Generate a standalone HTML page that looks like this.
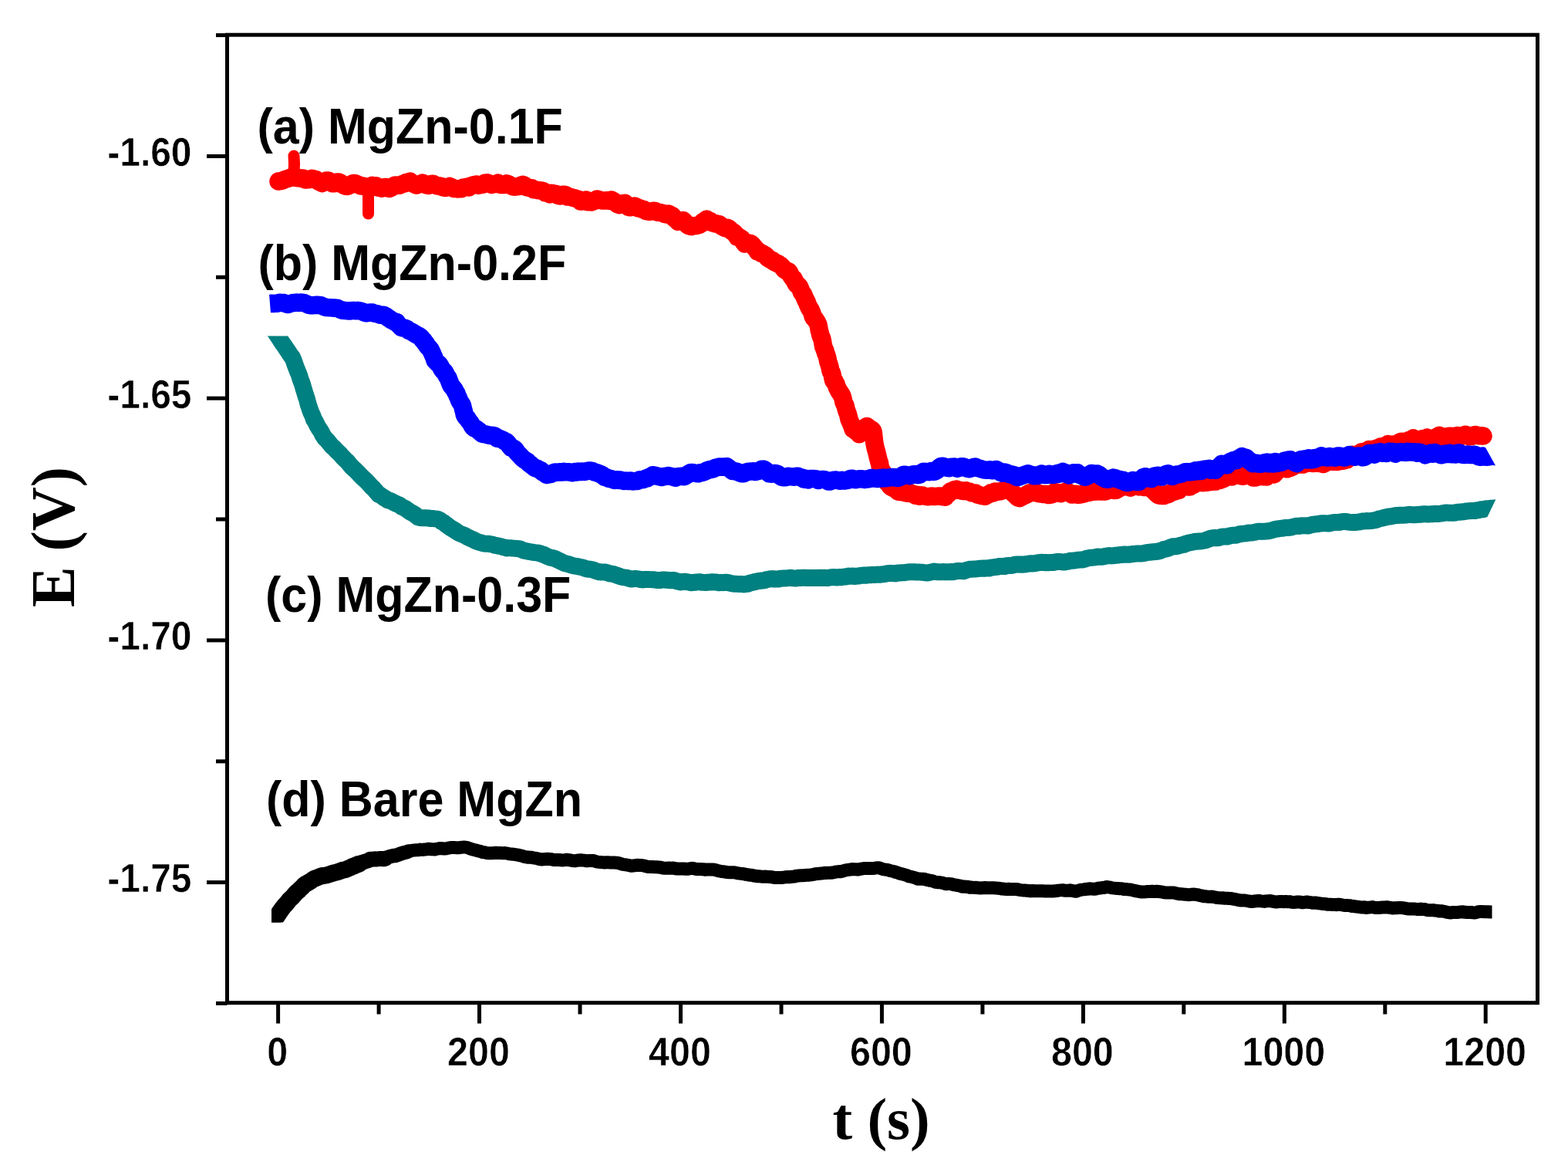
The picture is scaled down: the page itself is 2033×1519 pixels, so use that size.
<!DOCTYPE html>
<html><head><meta charset="utf-8"><title>E vs t</title><style>html,body{margin:0;padding:0;background:#fff;overflow:hidden}svg{display:block}</style></head><body><svg width="2033" height="1519" viewBox="0 0 2033 1519"><rect x="0" y="0" width="2033" height="1519" fill="#fff"/>
<clipPath id="ck"><rect x="352" y="0" width="1700" height="1195.5"/></clipPath>
<clipPath id="cb"><polygon points="0,0 2033,0 2033,500 1881.5,500 1992.7,700 2033,700 2033,1519 0,1519"/></clipPath>
<clipPath id="ct"><polygon points="0,435.6 2033,435.6 2033,600 1961.8,600 1904.7,720 2033,720 2033,1519 0,1519"/></clipPath>
<g clip-path="url(#ck)"><path d="M352.0 1199.0 L353.4 1196.8 L354.8 1194.4 L356.2 1192.3 L357.6 1189.9 L359.0 1187.7 L360.8 1185.1 L362.5 1182.3 L364.2 1180.1 L366.0 1177.3 L367.6 1175.3 L369.2 1173.3 L370.8 1171.9 L372.4 1169.9 L374.0 1167.8 L375.8 1165.6 L377.6 1164.1 L379.4 1162.4 L381.2 1160.2 L383.0 1158.1 L385.2 1155.9 L387.3 1154.3 L389.5 1151.9 L391.7 1150.1 L393.8 1147.7 L396.0 1145.8 L398.4 1144.7 L400.8 1143.2 L403.2 1141.8 L405.6 1140.0 L408.0 1138.6 L410.4 1137.9 L412.9 1136.8 L415.3 1135.9 L417.7 1135.0 L420.1 1134.9 L422.6 1134.5 L425.0 1133.9 L427.4 1133.1 L429.9 1132.3 L432.3 1131.5 L434.8 1130.9 L437.2 1130.3 L439.7 1129.5 L442.1 1128.6 L444.6 1127.7 L447.0 1127.4 L449.3 1126.6 L451.7 1125.5 L454.0 1124.6 L456.3 1123.3 L458.7 1122.5 L461.0 1121.4 L463.3 1120.5 L465.7 1119.6 L468.0 1118.2 L470.4 1117.5 L472.8 1116.7 L475.2 1116.0 L477.6 1115.1 L480.0 1113.7 L482.9 1113.7 L485.8 1113.3 L488.7 1113.4 L491.6 1113.1 L494.5 1113.1 L497.4 1113.3 L499.8 1112.6 L502.3 1111.7 L504.8 1110.3 L507.2 1109.8 L509.6 1109.1 L512.1 1109.1 L514.5 1108.4 L517.0 1107.5 L519.5 1106.4 L522.0 1105.8 L524.4 1105.0 L526.9 1104.5 L529.4 1103.5 L531.8 1103.1 L534.3 1102.2 L536.8 1102.1 L539.5 1101.8 L542.3 1101.7 L545.0 1101.1 L547.8 1101.4 L550.5 1101.0 L553.3 1100.7 L556.0 1100.2 L558.5 1100.7 L561.0 1100.8 L563.5 1100.9 L566.0 1100.3 L568.5 1099.9 L571.0 1099.4 L573.5 1099.7 L576.0 1100.0 L578.8 1099.8 L581.6 1099.1 L584.4 1098.5 L587.2 1098.5 L590.0 1098.6 L592.6 1098.8 L595.2 1098.7 L597.8 1098.3 L600.4 1098.1 L603.0 1098.1 L605.6 1098.4 L608.7 1099.6 L611.9 1100.7 L615.0 1101.5 L617.6 1102.1 L620.1 1102.9 L622.7 1103.4 L625.3 1104.5 L628.2 1104.8 L631.2 1105.6 L634.1 1105.8 L637.1 1105.7 L640.0 1105.6 L643.0 1105.2 L645.9 1105.6 L648.9 1105.5 L651.8 1105.7 L654.8 1105.5 L657.5 1106.0 L660.3 1106.7 L663.0 1107.0 L665.8 1107.3 L668.5 1107.6 L671.3 1108.1 L674.0 1108.8 L676.5 1109.1 L679.0 1110.1 L681.6 1110.7 L684.1 1111.2 L686.6 1111.1 L689.2 1111.3 L691.7 1111.9 L694.2 1112.2 L696.8 1112.8 L699.4 1113.5 L701.9 1113.9 L704.5 1113.8 L707.1 1113.4 L709.7 1113.3 L712.3 1113.4 L714.8 1113.7 L717.4 1114.5 L720.0 1114.5 L722.5 1114.4 L725.0 1114.5 L727.5 1114.8 L730.0 1114.9 L732.5 1114.6 L735.0 1114.3 L737.5 1114.6 L740.0 1115.0 L742.5 1115.6 L745.0 1115.8 L747.7 1115.3 L750.4 1115.0 L753.1 1114.7 L755.8 1115.1 L758.4 1115.3 L761.1 1115.8 L763.8 1115.6 L766.5 1115.4 L769.2 1115.5 L772.0 1116.3 L774.7 1117.1 L777.5 1117.4 L780.2 1117.6 L783.0 1117.9 L785.7 1117.7 L788.5 1117.8 L791.2 1117.9 L794.0 1118.0 L796.7 1118.0 L799.4 1118.2 L802.1 1118.7 L804.8 1119.5 L807.6 1120.3 L810.3 1120.7 L813.0 1121.2 L815.7 1121.6 L818.4 1122.2 L821.1 1122.0 L823.9 1121.6 L826.6 1121.3 L829.3 1121.4 L832.1 1121.5 L834.8 1122.0 L837.5 1122.8 L840.3 1123.5 L843.0 1123.5 L845.7 1123.6 L848.5 1123.8 L851.2 1123.7 L853.9 1124.0 L856.7 1124.3 L859.4 1125.0 L862.1 1125.3 L864.9 1125.3 L867.6 1125.0 L870.3 1125.2 L873.0 1125.1 L875.7 1125.7 L878.4 1126.0 L881.2 1126.1 L883.9 1125.9 L886.6 1126.0 L889.3 1126.3 L892.0 1126.3 L894.8 1125.7 L897.5 1125.3 L900.3 1125.9 L903.0 1126.5 L905.8 1126.5 L908.5 1126.5 L911.3 1126.7 L914.0 1127.2 L916.8 1126.9 L919.5 1126.9 L922.3 1126.9 L925.0 1127.0 L927.8 1127.6 L930.5 1128.4 L933.3 1129.1 L936.0 1129.5 L938.5 1129.7 L941.0 1130.3 L943.5 1130.6 L946.0 1130.8 L948.6 1130.7 L951.1 1130.7 L953.6 1131.1 L956.1 1131.7 L958.8 1132.0 L961.4 1132.5 L964.1 1132.5 L966.7 1133.3 L969.4 1133.6 L972.0 1134.2 L974.7 1134.3 L977.3 1135.0 L980.0 1135.3 L982.5 1135.8 L985.1 1135.8 L987.6 1136.2 L990.1 1136.2 L992.6 1136.1 L995.2 1136.3 L997.7 1136.4 L1000.2 1136.7 L1002.8 1137.2 L1005.3 1137.5 L1008.0 1137.6 L1010.8 1137.4 L1013.5 1137.5 L1016.3 1137.1 L1019.0 1136.8 L1021.8 1136.6 L1024.5 1136.7 L1027.3 1136.2 L1030.0 1136.0 L1032.7 1135.2 L1035.4 1135.0 L1038.2 1134.8 L1040.9 1134.7 L1043.6 1134.6 L1046.3 1134.2 L1049.1 1134.2 L1051.8 1133.8 L1054.5 1133.4 L1057.0 1132.8 L1059.5 1132.5 L1062.0 1132.3 L1064.5 1132.0 L1067.0 1131.7 L1069.5 1131.3 L1072.0 1131.4 L1074.5 1131.2 L1077.0 1131.3 L1079.6 1131.0 L1082.1 1130.4 L1084.7 1129.9 L1087.2 1129.6 L1089.8 1129.7 L1092.3 1129.2 L1094.9 1128.3 L1097.4 1127.7 L1100.0 1127.3 L1102.5 1127.1 L1105.0 1126.5 L1107.5 1126.7 L1110.0 1126.8 L1112.5 1127.1 L1115.0 1126.4 L1117.5 1126.0 L1120.0 1125.5 L1122.8 1125.4 L1125.5 1125.4 L1128.3 1125.4 L1131.1 1125.4 L1133.9 1125.3 L1136.6 1124.7 L1139.4 1124.8 L1141.9 1125.5 L1144.3 1126.5 L1146.8 1126.9 L1149.2 1127.2 L1151.7 1127.6 L1154.1 1128.5 L1156.5 1129.0 L1159.0 1129.5 L1161.5 1130.5 L1163.9 1131.1 L1166.4 1132.1 L1168.8 1132.6 L1171.3 1133.3 L1173.8 1133.9 L1176.2 1134.8 L1178.7 1135.9 L1181.5 1136.3 L1184.2 1137.1 L1187.0 1137.9 L1189.7 1139.2 L1192.5 1139.1 L1195.2 1139.3 L1198.0 1139.2 L1200.5 1140.2 L1203.0 1140.6 L1205.5 1141.2 L1208.0 1141.4 L1210.5 1142.3 L1213.0 1143.3 L1215.5 1143.7 L1218.0 1143.6 L1220.7 1144.1 L1223.4 1144.8 L1226.1 1145.7 L1228.9 1145.5 L1231.6 1145.6 L1234.3 1146.0 L1237.0 1146.8 L1239.5 1147.1 L1242.1 1147.7 L1244.7 1148.2 L1247.2 1149.2 L1249.8 1148.9 L1252.3 1149.4 L1254.9 1149.3 L1257.4 1150.2 L1260.2 1150.1 L1263.0 1150.4 L1265.8 1150.3 L1268.6 1150.8 L1271.4 1150.9 L1274.2 1150.7 L1277.0 1150.6 L1279.8 1150.7 L1282.7 1150.8 L1285.5 1150.7 L1288.3 1150.7 L1291.1 1150.9 L1294.0 1151.2 L1296.8 1151.5 L1299.5 1152.1 L1302.3 1152.3 L1305.0 1152.6 L1307.8 1152.3 L1310.5 1152.6 L1313.3 1152.4 L1316.0 1152.6 L1318.5 1152.5 L1321.0 1153.2 L1323.5 1153.6 L1326.0 1153.9 L1328.5 1153.9 L1331.0 1154.3 L1333.5 1154.4 L1336.0 1154.9 L1338.6 1154.5 L1341.3 1154.8 L1343.9 1154.8 L1346.5 1154.8 L1349.2 1154.8 L1351.8 1154.7 L1354.5 1155.1 L1357.1 1155.0 L1359.7 1155.1 L1362.4 1154.9 L1365.0 1155.1 L1367.5 1154.8 L1370.0 1154.5 L1372.5 1154.1 L1375.0 1153.9 L1377.5 1153.7 L1380.0 1154.2 L1382.5 1154.3 L1385.0 1154.3 L1387.5 1153.8 L1390.0 1154.3 L1392.5 1154.8 L1395.0 1155.3 L1397.5 1154.5 L1400.0 1153.7 L1402.5 1153.1 L1405.0 1152.9 L1407.5 1152.5 L1410.0 1152.3 L1412.5 1151.8 L1415.0 1152.1 L1417.8 1152.2 L1420.6 1152.2 L1423.4 1151.3 L1426.1 1151.1 L1428.9 1150.6 L1431.7 1150.4 L1434.5 1149.4 L1437.0 1149.8 L1439.5 1150.2 L1442.0 1150.9 L1444.5 1151.1 L1447.0 1151.4 L1449.5 1151.4 L1452.0 1151.8 L1454.5 1151.8 L1457.0 1152.4 L1459.6 1152.5 L1462.1 1152.8 L1464.7 1153.0 L1467.2 1153.4 L1469.8 1154.1 L1472.3 1154.6 L1474.9 1155.2 L1477.4 1155.6 L1480.0 1156.0 L1482.8 1156.0 L1485.5 1155.8 L1488.3 1155.5 L1491.1 1155.5 L1493.9 1155.3 L1496.6 1155.6 L1499.4 1155.3 L1502.0 1155.5 L1504.5 1155.8 L1507.1 1156.2 L1509.6 1156.8 L1512.2 1157.0 L1514.8 1157.1 L1517.3 1157.0 L1519.9 1157.0 L1522.4 1157.0 L1525.0 1157.8 L1527.6 1158.3 L1530.2 1158.8 L1532.7 1158.8 L1535.3 1159.2 L1537.9 1159.3 L1540.5 1159.7 L1543.1 1159.5 L1545.6 1159.2 L1548.2 1159.1 L1550.8 1159.5 L1553.3 1159.8 L1555.8 1160.6 L1558.3 1161.0 L1560.9 1161.7 L1563.4 1161.8 L1565.9 1162.2 L1568.4 1162.3 L1570.9 1162.1 L1573.4 1162.5 L1575.9 1163.0 L1578.5 1163.6 L1581.0 1163.7 L1583.5 1163.9 L1586.0 1163.8 L1588.5 1164.3 L1591.1 1164.2 L1593.7 1164.5 L1596.2 1164.5 L1598.8 1165.1 L1601.3 1165.5 L1603.8 1166.1 L1606.4 1166.6 L1609.0 1167.1 L1611.5 1167.1 L1614.0 1167.0 L1616.6 1167.5 L1619.2 1168.0 L1621.7 1168.4 L1624.2 1168.4 L1626.7 1168.0 L1629.3 1167.7 L1631.8 1167.4 L1634.3 1167.9 L1636.8 1168.1 L1639.3 1168.4 L1641.9 1167.9 L1644.4 1167.7 L1646.9 1167.6 L1649.4 1168.1 L1652.0 1168.6 L1654.5 1169.0 L1657.0 1168.7 L1659.5 1168.6 L1662.1 1168.5 L1664.6 1168.7 L1667.1 1168.4 L1669.7 1168.8 L1672.2 1168.6 L1674.8 1169.3 L1677.3 1169.4 L1679.8 1169.3 L1682.4 1169.0 L1684.9 1168.9 L1687.4 1169.7 L1690.0 1169.7 L1692.5 1169.3 L1695.0 1169.0 L1697.6 1169.6 L1700.1 1169.8 L1702.6 1170.3 L1705.2 1169.9 L1707.7 1170.3 L1710.2 1170.8 L1712.8 1171.1 L1715.3 1171.5 L1717.9 1171.4 L1720.4 1172.2 L1722.9 1172.3 L1725.5 1172.3 L1728.0 1172.6 L1730.5 1172.6 L1733.0 1172.7 L1735.6 1172.2 L1738.1 1172.5 L1740.6 1173.0 L1743.1 1173.5 L1745.7 1173.4 L1748.2 1173.6 L1750.7 1173.8 L1753.2 1174.6 L1755.7 1174.6 L1758.3 1175.1 L1760.8 1175.3 L1763.3 1175.7 L1766.0 1175.9 L1768.6 1175.8 L1771.3 1176.5 L1774.0 1176.1 L1776.6 1175.9 L1779.3 1175.6 L1782.0 1176.2 L1784.7 1176.5 L1787.3 1176.5 L1790.0 1176.2 L1792.7 1176.0 L1795.3 1175.9 L1798.0 1175.7 L1800.6 1176.2 L1803.2 1176.4 L1805.8 1177.1 L1808.3 1176.7 L1810.9 1176.8 L1813.5 1176.5 L1816.1 1176.5 L1818.7 1176.7 L1821.3 1177.1 L1823.9 1177.7 L1826.4 1178.1 L1829.0 1177.9 L1831.6 1178.0 L1834.2 1178.1 L1836.8 1178.4 L1839.5 1178.5 L1842.1 1178.1 L1844.8 1178.6 L1847.4 1178.6 L1850.1 1179.5 L1852.7 1179.7 L1855.4 1179.8 L1858.0 1179.6 L1860.6 1180.1 L1863.2 1180.3 L1865.8 1180.9 L1868.4 1180.7 L1871.0 1181.2 L1873.6 1181.6 L1876.2 1182.4 L1878.8 1182.7 L1881.4 1182.9 L1884.0 1182.4 L1886.5 1182.6 L1889.1 1182.4 L1891.6 1182.2 L1894.2 1181.9 L1896.8 1181.8 L1899.3 1182.3 L1901.9 1182.5 L1904.4 1182.5 L1907.0 1182.5 L1909.5 1182.8 L1912.0 1183.0 L1914.5 1182.4 L1917.0 1181.7 L1919.5 1181.4 L1922.0 1181.6 L1924.5 1181.7 L1927.0 1181.8 L1929.5 1181.8 L1932.0 1182.0 L1934.5 1182.0" fill="none" stroke="#000" stroke-width="17" stroke-linejoin="round" stroke-linecap="butt"/><path d="M352.0 1199.0 L353.4 1196.8 L354.8 1194.4 L356.2 1192.3 L357.6 1189.9 L359.0 1187.7 L360.8 1185.1 L362.5 1182.3 L364.2 1180.1 L366.0 1177.3 L367.6 1175.3 L369.2 1173.3 L370.8 1171.9 L372.4 1169.9 L374.0 1167.8 L375.8 1165.6 L377.6 1164.1 L379.4 1162.4 L381.2 1160.2 L383.0 1158.1 L385.2 1155.9 L387.3 1154.3 L389.5 1151.9 L391.7 1150.1 L393.8 1147.7 L396.0 1145.8 L398.4 1144.7 L400.8 1143.2 L403.2 1141.8 L405.6 1140.0 L408.0 1138.6 L410.4 1137.9 L412.9 1136.8 L415.3 1135.9 L417.7 1135.0 L420.1 1134.9 L422.6 1134.5 L425.0 1133.9 L427.4 1133.1 L429.9 1132.3 L432.3 1131.5 L434.8 1130.9 L437.2 1130.3 L439.7 1129.5 L442.1 1128.6 L444.6 1127.7 L447.0 1127.4 L449.3 1126.6 L451.7 1125.5 L454.0 1124.6 L456.3 1123.3 L458.7 1122.5 L461.0 1121.4 L463.3 1120.5 L465.7 1119.6 L468.0 1118.2" fill="none" stroke="#000" stroke-width="22" stroke-linejoin="round" stroke-linecap="butt"/><path d="M461.0 1121.4 L463.3 1120.5 L465.7 1119.6 L468.0 1118.2 L470.4 1117.5 L472.8 1116.7 L475.2 1116.0 L477.6 1115.1 L480.0 1113.7 L482.9 1113.7 L485.8 1113.3 L488.7 1113.4 L491.6 1113.1 L494.5 1113.1 L497.4 1113.3 L499.8 1112.6" fill="none" stroke="#000" stroke-width="20" stroke-linejoin="round" stroke-linecap="round"/><path d="M497.4 1113.3 L499.8 1112.6 L502.3 1111.7 L504.8 1110.3 L507.2 1109.8 L509.6 1109.1 L512.1 1109.1 L514.5 1108.4 L517.0 1107.5 L519.5 1106.4 L522.0 1105.8 L524.4 1105.0 L526.9 1104.5 L529.4 1103.5" fill="none" stroke="#000" stroke-width="18.5" stroke-linejoin="round" stroke-linecap="round"/></g>
<path d="M361.0 235.0 L363.5 234.7 L366.0 234.1 L369.0 232.8 L372.0 231.7 L375.0 231.1 L378.0 229.6 L381.0 229.0 L384.0 230.5 L387.0 230.7 L390.0 231.2 L393.0 230.9 L396.0 233.1 L399.0 232.9 L401.7 232.4 L404.4 231.2 L407.0 232.0 L409.7 232.7 L412.4 234.8 L415.1 236.1 L417.8 237.5 L420.5 235.6 L423.1 234.0 L425.8 233.9 L428.5 236.3 L431.2 237.7 L433.9 237.8 L436.5 236.0 L439.2 236.1 L441.9 237.3 L444.6 239.6 L447.3 241.1 L450.0 241.5 L452.6 240.5 L455.3 239.0 L458.0 237.4 L461.0 237.9 L464.0 239.1 L467.0 240.7 L470.0 241.0 L472.5 241.6 L475.0 241.8 L477.5 241.9 L480.0 241.9 L482.5 240.3 L485.0 241.3 L487.5 240.7 L490.0 243.0 L492.5 243.3 L494.9 244.1 L497.4 242.8 L499.8 242.5 L502.3 243.8 L504.8 244.4 L507.4 243.3 L509.9 241.1 L512.5 239.9 L515.0 240.2 L517.8 240.3 L520.6 238.9 L523.4 238.2 L526.2 236.6 L529.0 236.1 L531.8 235.1 L534.5 237.6 L537.2 238.7 L539.8 240.0 L542.5 239.1 L545.2 238.4 L547.9 237.1 L550.6 238.6 L553.3 240.0 L555.9 240.4 L558.6 238.4 L561.3 238.2 L564.0 239.5 L566.7 241.0 L569.3 240.9 L572.0 241.3 L574.7 243.0 L577.4 243.4 L580.1 242.4 L582.8 241.4 L585.4 242.4 L588.1 244.4 L590.8 244.5 L593.3 244.9 L595.7 244.6 L598.2 244.8 L600.7 242.9 L603.1 242.9 L605.6 242.0 L608.1 242.9 L610.5 240.7 L613.0 240.0 L615.5 239.3 L617.9 239.0 L620.4 240.2 L623.2 239.4 L626.0 239.0 L628.8 237.2 L631.6 236.8 L634.4 237.8 L637.2 239.4 L640.0 238.6 L642.8 238.4 L645.6 237.1 L648.4 239.6 L651.1 239.4 L653.9 239.5 L656.7 237.8 L659.5 238.8 L662.1 240.4 L664.8 241.8 L667.4 242.2 L670.0 241.9 L672.7 241.6 L675.3 240.1 L677.7 239.3 L680.0 240.3 L682.4 242.4 L684.8 243.1 L687.1 243.6 L689.5 243.8 L691.9 245.7 L694.3 245.9 L696.6 246.5 L699.0 246.7 L701.7 246.9 L704.4 247.6 L707.1 250.1 L709.9 250.0 L712.6 251.8 L715.3 250.2 L718.0 251.1 L720.6 251.2 L723.1 253.2 L725.7 253.9 L728.2 252.5 L730.8 252.2 L733.4 252.6 L735.9 255.1 L738.5 255.0 L740.9 255.7 L743.2 256.5 L745.6 256.9 L748.0 257.8 L750.4 258.4 L752.7 261.0 L755.1 260.9 L757.5 259.8 L759.8 258.9 L762.2 261.8 L764.6 261.4 L766.9 262.0 L769.3 261.0 L771.6 260.2 L774.0 258.0 L776.6 258.6 L779.3 259.7 L781.9 260.1 L784.6 260.0 L787.2 259.7 L789.9 260.2 L792.5 259.0 L795.2 260.4 L797.8 262.4 L800.3 264.5 L802.7 265.6 L805.2 264.1 L807.6 263.7 L810.1 263.2 L812.6 266.1 L815.0 268.4 L817.5 268.8 L820.0 267.7 L822.5 267.0 L824.9 267.8 L827.4 270.0 L829.9 270.0 L832.4 271.3 L834.8 271.5 L837.3 273.6 L839.8 274.1 L842.2 274.3 L844.7 273.7 L847.2 273.2 L849.7 273.4 L852.1 275.2 L854.6 275.4 L857.1 275.7 L859.5 276.4 L862.0 277.5 L864.5 278.0 L866.9 277.0 L869.4 278.4 L871.9 279.8 L874.3 282.8 L876.8 284.3 L879.0 287.2 L881.2 286.9 L883.4 286.3 L885.6 285.5 L887.7 287.4 L889.9 290.2 L892.1 292.3 L894.3 293.0 L896.5 293.6 L899.0 292.8 L901.5 292.6 L903.9 292.2 L906.4 291.5 L908.9 290.2 L911.3 287.5 L913.8 286.2 L916.3 284.1 L918.6 286.4 L920.9 286.5 L923.1 288.8 L925.4 289.1 L927.7 290.0 L930.0 290.1 L932.7 290.7 L935.3 293.0 L938.0 294.5 L940.7 295.7 L943.3 295.3 L946.0 297.0 L948.0 299.1 L949.9 300.4 L951.9 301.7 L953.9 303.7 L955.9 307.2 L957.8 307.2 L959.8 308.4 L961.8 309.7 L963.7 313.1 L965.7 315.9 L968.1 315.5 L970.5 315.6 L972.9 315.2 L975.2 317.0 L977.6 320.0 L980.0 322.6 L982.2 325.9 L984.4 326.1 L986.6 328.3 L988.7 328.7 L990.9 330.0 L993.1 331.4 L995.3 334.2 L997.4 335.5 L999.5 336.7 L1001.6 337.6 L1003.8 339.5 L1005.9 340.6 L1008.0 341.2 L1010.3 342.8 L1012.6 344.2 L1015.0 346.9 L1017.3 349.7 L1019.6 351.2 L1021.9 351.5 L1023.4 352.8 L1024.8 356.0 L1026.3 358.5 L1027.8 360.6 L1029.2 361.5 L1030.7 365.1 L1032.1 367.7 L1033.6 369.5 L1035.1 369.9 L1036.5 371.7 L1038.0 374.9 L1039.2 378.5 L1040.3 380.1 L1041.5 381.5 L1042.6 383.9 L1043.8 386.9 L1044.9 389.5 L1046.0 390.9 L1047.2 394.5 L1048.3 396.9 L1049.5 399.8 L1050.7 400.7 L1051.8 403.2 L1053.0 406.2 L1054.1 410.1 L1055.2 412.2 L1056.4 412.9 L1057.5 414.6 L1058.7 416.5 L1059.8 418.4 L1061.0 421.1 L1061.6 424.2 L1062.3 428.7 L1062.9 430.1 L1063.6 433.8 L1064.2 435.5 L1064.9 437.5 L1065.5 438.0 L1066.2 440.8 L1066.8 444.5 L1067.6 449.2 L1068.3 450.6 L1069.1 453.2 L1069.9 454.4 L1070.6 458.0 L1071.4 459.4 L1072.2 461.7 L1072.9 464.3 L1073.7 468.7 L1074.5 470.9 L1075.2 473.4 L1076.0 475.7 L1076.8 480.3 L1077.5 482.2 L1078.3 483.1 L1079.1 485.6 L1079.8 490.0 L1080.6 493.5 L1081.8 493.6 L1082.9 495.8 L1084.1 497.9 L1085.2 502.2 L1086.4 503.8 L1087.6 507.1 L1088.7 507.7 L1089.9 510.3 L1091.0 511.2 L1092.2 514.1 L1093.0 516.8 L1093.7 520.8 L1094.5 522.9 L1095.2 523.9 L1096.0 525.5 L1096.7 528.8 L1097.5 531.8 L1098.2 533.7 L1099.0 535.6 L1100.0 539.1 L1101.0 543.6 L1102.0 545.8 L1103.0 548.0 L1104.0 550.4 L1105.0 553.0 L1106.0 556.3 L1108.0 556.3 L1110.0 559.1 L1112.0 559.9 L1114.0 562.7 L1116.0 560.0 L1118.0 557.6 L1120.0 555.5 L1122.0 553.8 L1124.0 552.4 L1126.0 554.1 L1128.0 556.1 L1130.0 556.6 L1132.0 559.0 L1132.4 561.9 L1132.8 565.1 L1133.1 568.2 L1133.5 571.7 L1133.9 574.9 L1134.2 576.3 L1134.6 578.3 L1135.0 580.2 L1135.7 582.6 L1136.3 584.9 L1137.0 587.3 L1137.7 590.5 L1138.3 593.2 L1139.0 595.5 L1139.7 598.4 L1140.4 599.8 L1141.0 603.9 L1141.7 606.7 L1142.9 610.2 L1144.1 611.1 L1145.3 613.0 L1146.4 615.2 L1147.6 619.8 L1148.8 621.4 L1150.0 625.1 L1152.0 626.8 L1154.0 629.9 L1156.0 631.5 L1158.0 631.2 L1160.0 633.5 L1162.0 634.4 L1164.4 637.0 L1166.9 637.6 L1169.3 637.6 L1171.8 638.0 L1174.2 638.8 L1176.7 639.3 L1179.1 639.1 L1181.6 639.4 L1184.0 640.4 L1186.7 642.1 L1189.3 641.3 L1192.0 643.2 L1194.7 641.7 L1197.3 642.6 L1200.0 643.2 L1202.7 643.7 L1205.4 643.5 L1208.1 642.9 L1210.9 643.6 L1213.6 643.4 L1216.3 643.0 L1219.0 643.0 L1221.2 643.8 L1223.4 643.7 L1225.6 644.1 L1227.8 640.9 L1230.0 639.8 L1232.5 636.7 L1235.0 636.3 L1237.5 634.7 L1240.0 634.1 L1242.5 635.2 L1245.0 635.4 L1247.5 636.2 L1250.0 636.6 L1252.5 635.8 L1255.0 637.1 L1257.4 637.3 L1259.9 638.8 L1262.3 639.1 L1264.8 639.0 L1267.2 641.2 L1269.7 641.5 L1272.1 642.5 L1274.6 642.7 L1277.0 643.2 L1279.6 641.7 L1282.1 640.7 L1284.7 638.7 L1287.2 639.3 L1289.8 637.1 L1292.3 637.5 L1294.9 636.9 L1297.4 636.7 L1300.0 635.8 L1302.5 635.1 L1305.0 634.8 L1307.5 634.3 L1310.0 634.9 L1312.4 637.8 L1314.8 640.3 L1317.2 642.6 L1319.6 644.8 L1322.0 645.6 L1324.5 644.2 L1327.0 642.8 L1329.5 641.8 L1332.0 640.5 L1334.5 639.0 L1337.0 638.5 L1339.5 638.5 L1342.0 637.5 L1344.5 638.9 L1347.0 639.7 L1349.5 640.0 L1352.0 640.4 L1354.5 640.4 L1357.0 640.5 L1359.5 641.5 L1362.0 641.3 L1364.7 640.5 L1367.3 637.7 L1370.0 637.9 L1372.7 638.8 L1375.3 639.7 L1378.0 638.3 L1380.4 637.7 L1382.8 636.6 L1385.2 638.0 L1387.6 639.5 L1390.0 641.1 L1392.7 640.8 L1395.3 640.2 L1398.0 641.3 L1400.7 641.1 L1403.3 640.3 L1406.0 639.9 L1408.6 638.1 L1411.2 638.6 L1413.8 637.2 L1416.4 637.5 L1419.0 636.2 L1421.6 636.9 L1424.2 636.1 L1426.8 637.1 L1429.8 637.1 L1432.9 637.1 L1436.0 635.9 L1439.0 634.7 L1441.6 635.0 L1444.2 635.4 L1446.8 635.3 L1449.4 633.9 L1452.0 632.5 L1454.8 630.7 L1457.6 629.8 L1460.4 630.6 L1463.2 631.1 L1466.0 632.1 L1468.6 629.9 L1471.2 630.0 L1473.8 629.9 L1476.4 630.9 L1479.0 630.6 L1481.5 631.0 L1484.0 631.6 L1486.5 631.3 L1489.0 631.9 L1491.5 632.7 L1494.0 634.4 L1496.4 636.6 L1498.9 639.2 L1501.3 641.4 L1503.7 642.3 L1506.2 642.3 L1508.6 642.6 L1511.1 640.8 L1513.6 641.0 L1516.1 639.9 L1518.5 638.4 L1521.0 637.0 L1523.5 637.0 L1526.0 635.8 L1528.3 635.5 L1530.7 632.3 L1533.0 631.6 L1535.4 629.1 L1537.8 630.0 L1540.1 630.8 L1542.5 631.1 L1544.8 629.2 L1547.3 628.4 L1549.9 626.8 L1552.4 625.9 L1554.9 625.3 L1557.5 625.3 L1560.0 625.7 L1562.7 624.8 L1565.3 625.3 L1568.0 624.5 L1570.7 624.5 L1573.3 623.5 L1576.0 624.1 L1578.7 622.8 L1581.3 622.6 L1584.0 621.6 L1586.7 620.6 L1589.3 618.7 L1592.0 618.1 L1594.7 616.9 L1597.3 617.9 L1600.0 616.1 L1602.5 616.1 L1605.0 614.2 L1607.5 616.2 L1610.0 617.0 L1612.5 617.2 L1615.0 615.1 L1617.5 614.4 L1620.0 615.8 L1622.5 617.3 L1625.0 619.0 L1627.5 619.1 L1630.0 617.9 L1632.5 617.7 L1635.0 616.9 L1637.4 617.8 L1639.8 617.5 L1642.2 617.9 L1644.6 615.2 L1647.0 614.4 L1649.4 613.6 L1651.8 614.9 L1654.2 612.2 L1656.6 609.6 L1659.0 606.8 L1661.4 605.7 L1663.8 606.4 L1666.2 607.2 L1668.6 607.8 L1671.0 606.8 L1673.6 606.1 L1676.2 604.9 L1678.8 602.9 L1681.4 601.2 L1684.0 602.0 L1686.6 602.0 L1689.2 602.1 L1691.8 601.0 L1694.4 600.2 L1697.0 599.8 L1699.6 599.1 L1702.2 600.4 L1704.8 600.3 L1707.4 600.1 L1710.0 600.4 L1712.7 600.4 L1715.3 601.5 L1718.0 600.4 L1720.7 599.0 L1723.3 597.7 L1726.0 597.0 L1728.7 598.5 L1731.3 598.1 L1734.0 598.5 L1736.7 597.7 L1739.3 597.2 L1742.0 597.3 L1744.3 595.2 L1746.7 595.7 L1749.0 593.0 L1751.3 591.8 L1753.7 589.3 L1756.0 589.7 L1758.3 591.1 L1760.7 589.6 L1763.0 587.9 L1765.3 585.8 L1767.7 586.7 L1770.0 584.9 L1772.5 584.3 L1774.9 582.6 L1777.4 583.5 L1779.9 582.3 L1782.4 583.0 L1784.8 581.1 L1787.3 580.3 L1789.8 579.1 L1792.2 579.0 L1794.7 578.1 L1797.2 577.3 L1799.6 575.6 L1802.1 576.6 L1804.6 576.1 L1807.1 577.1 L1809.5 576.1 L1812.0 574.6 L1814.5 573.3 L1817.1 572.3 L1819.6 573.1 L1822.2 571.9 L1824.7 572.6 L1827.3 570.1 L1829.8 569.9 L1832.4 568.0 L1834.9 569.6 L1837.5 569.8 L1840.0 569.7 L1842.6 569.3 L1845.2 568.4 L1847.8 568.3 L1850.4 567.1 L1853.0 568.1 L1855.6 568.5 L1858.2 568.5 L1860.8 567.2 L1863.4 565.9 L1866.0 564.4 L1868.6 565.5 L1871.3 566.2 L1873.9 567.5 L1876.5 565.8 L1879.2 565.2 L1881.8 565.2 L1884.5 566.1 L1887.1 565.2 L1889.7 564.4 L1892.4 565.0 L1895.0 565.2 L1897.5 564.6 L1900.1 563.2 L1902.6 564.3 L1905.2 565.8 L1907.7 565.5 L1910.3 564.3 L1912.8 563.5 L1915.4 564.1 L1917.9 564.7 L1920.5 564.8 L1923.0 565.0" fill="none" stroke="#ff0000" stroke-width="23.5" stroke-linejoin="round" stroke-linecap="round"/>
<path d="M381 228 L381.5 212 L381 202" fill="none" stroke="#ff0000" stroke-width="15" stroke-linecap="round" stroke-linejoin="round"/>
<path d="M477.5 245 L477.5 277" fill="none" stroke="#ff0000" stroke-width="15" stroke-linecap="round"/>
<g clip-path="url(#cb)"><path d="M350.0 393.5 L352.5 393.3 L355.0 393.4 L357.5 393.3 L360.0 393.2 L362.5 392.2 L365.0 392.4 L367.9 392.5 L370.8 393.8 L373.7 394.5 L376.6 393.5 L379.5 392.5 L382.1 392.5 L384.6 392.1 L387.2 392.4 L389.8 392.1 L392.3 392.2 L394.9 392.8 L397.4 393.8 L400.0 395.2 L402.7 395.7 L405.4 395.7 L408.1 395.6 L410.9 395.3 L413.6 395.5 L416.3 395.7 L419.0 397.2 L421.6 398.1 L424.2 398.6 L426.9 398.7 L429.5 398.8 L432.1 399.2 L434.8 399.0 L437.4 399.4 L440.0 400.6 L442.6 402.0 L445.3 402.3 L447.9 402.6 L450.6 402.8 L453.2 403.1 L455.9 402.7 L458.5 402.4 L461.3 402.8 L464.1 402.4 L466.9 403.0 L469.6 403.6 L472.4 405.1 L475.2 405.8 L478.0 405.2 L480.5 405.0 L483.0 405.1 L485.5 406.1 L488.0 406.5 L490.5 407.3 L493.0 408.2 L495.5 408.2 L498.0 408.5 L500.4 409.8 L502.8 411.8 L505.2 413.1 L507.6 415.0 L510.0 416.0 L512.2 417.6 L514.3 417.6 L516.5 420.5 L518.7 422.7 L520.8 424.9 L523.0 425.1 L525.4 425.4 L527.8 426.5 L530.2 428.6 L532.6 429.5 L535.0 430.7 L537.5 432.4 L540.0 433.9 L542.5 435.0 L545.0 436.7 L546.5 438.1 L548.0 440.6 L549.5 441.6 L551.0 444.6 L552.5 445.6 L554.0 448.7 L555.5 449.9 L557.0 451.8 L558.2 453.0 L559.3 455.6 L560.5 458.0 L561.7 460.8 L562.8 463.3 L564.0 467.1 L565.7 468.9 L567.4 470.7 L569.1 471.8 L570.9 474.5 L572.6 477.7 L574.3 480.3 L576.0 481.3 L577.2 483.6 L578.5 485.8 L579.8 488.3 L581.0 489.6 L582.2 492.8 L583.5 496.4 L584.9 499.7 L586.3 501.4 L587.8 503.3 L589.2 504.9 L590.6 508.1 L592.0 510.1 L593.2 513.3 L594.3 515.6 L595.5 518.9 L596.7 521.1 L597.8 522.6 L599.0 524.7 L599.8 526.8 L600.6 530.6 L601.4 533.1 L602.2 537.2 L603.0 539.0 L604.4 541.1 L605.9 542.2 L607.3 544.6 L608.7 546.4 L610.1 548.1 L611.6 550.8 L613.0 553.1 L615.4 555.1 L617.8 556.0 L620.2 557.9 L622.6 559.9 L625.0 562.1 L627.5 562.7 L630.0 563.0 L632.5 563.8 L635.0 564.5 L637.5 564.3 L640.0 564.4 L642.4 565.7 L644.8 568.3 L647.2 568.2 L649.6 569.3 L652.0 570.2 L654.2 572.0 L656.5 572.5 L658.8 575.0 L661.0 578.2 L662.8 580.4 L664.6 580.6 L666.4 581.4 L668.2 583.1 L670.1 586.1 L671.9 588.2 L673.7 589.8 L675.5 591.8 L677.6 594.1 L679.6 595.6 L681.7 597.0 L683.7 598.1 L685.8 600.7 L687.8 601.7 L689.9 603.7 L691.9 605.1 L694.0 606.9 L696.4 607.2 L698.8 608.6 L701.2 609.6 L703.7 612.1 L706.1 613.2 L708.5 615.4 L711.3 614.9 L714.1 614.4 L716.9 613.0 L719.6 612.0 L722.4 612.2 L725.2 611.7 L728.0 612.1 L730.8 611.3 L733.7 611.8 L736.5 611.7 L739.4 612.2 L742.2 612.7 L745.1 611.5 L747.9 611.9 L750.4 610.9 L753.0 611.6 L755.5 611.0 L758.0 611.4 L760.5 610.8 L763.1 610.0 L765.6 610.0 L768.2 610.5 L770.7 612.0 L773.3 612.5 L775.9 613.5 L778.4 614.5 L781.0 615.7 L783.7 618.3 L786.3 618.7 L789.0 620.2 L791.7 620.4 L794.3 621.6 L797.0 622.4 L799.5 621.8 L802.0 622.4 L804.5 622.1 L807.0 622.9 L809.5 623.4 L812.0 623.1 L814.9 623.5 L817.8 623.0 L820.8 623.9 L823.7 623.6 L826.6 623.5 L829.1 622.0 L831.5 621.7 L834.0 621.5 L836.5 620.4 L838.9 620.0 L841.4 618.3 L843.8 617.7 L846.3 615.8 L849.2 616.1 L852.2 617.1 L855.1 617.9 L858.1 618.6 L861.0 617.5 L864.0 617.2 L866.9 616.5 L869.9 617.3 L872.8 618.2 L875.8 619.3 L878.6 617.8 L881.5 617.5 L884.3 617.2 L887.2 617.7 L890.0 616.0 L892.5 614.3 L895.1 612.7 L897.6 612.4 L900.2 613.0 L902.8 613.5 L905.3 613.8 L907.8 612.8 L910.2 612.6 L912.6 611.7 L915.1 610.7 L917.5 609.4 L920.0 608.8 L922.5 608.2 L924.9 607.7 L927.4 606.3 L929.9 605.8 L932.3 604.9 L934.8 605.3 L937.3 605.0 L939.9 605.2 L942.4 604.6 L944.9 606.6 L947.5 608.7 L950.0 610.6 L952.9 610.7 L955.7 611.4 L958.6 612.6 L961.4 613.8 L964.3 613.7 L966.8 612.3 L969.4 611.5 L971.9 611.2 L974.5 610.9 L977.0 610.8 L979.6 611.6 L982.2 610.6 L984.7 610.2 L987.3 608.3 L989.9 608.1 L992.4 609.5 L995.0 611.5 L997.5 613.9 L1000.0 614.2 L1002.8 613.8 L1005.5 613.5 L1008.3 614.4 L1011.1 616.7 L1013.9 618.4 L1016.6 618.8 L1019.4 618.5 L1022.0 617.2 L1024.5 617.8 L1027.1 617.8 L1029.6 618.2 L1032.2 617.3 L1034.8 617.3 L1037.3 618.6 L1039.9 619.1 L1042.4 621.2 L1045.0 620.4 L1047.7 622.0 L1050.3 620.6 L1053.0 620.6 L1055.7 620.5 L1058.3 620.9 L1061.0 622.4 L1063.7 621.6 L1066.3 621.4 L1069.0 621.7 L1071.6 622.6 L1074.1 624.0 L1076.7 623.9 L1079.2 622.6 L1081.8 622.2 L1084.3 622.1 L1086.9 622.7 L1089.4 623.2 L1092.0 622.3 L1094.6 623.1 L1097.2 622.7 L1099.7 622.2 L1102.3 620.4 L1104.9 620.2 L1107.5 621.6 L1110.0 621.7 L1112.6 621.0 L1115.2 620.8 L1118.0 620.8 L1120.7 621.6 L1123.5 621.0 L1126.2 620.7 L1129.0 619.6 L1131.7 619.6 L1134.5 620.1 L1137.2 620.5 L1140.0 619.6 L1142.7 620.0 L1145.3 619.1 L1148.0 619.8 L1150.7 619.3 L1153.3 619.1 L1156.0 618.4 L1158.6 618.4 L1161.3 619.1 L1163.9 619.4 L1166.6 618.6 L1169.2 616.9 L1171.8 615.2 L1174.5 615.5 L1177.1 615.8 L1179.7 616.7 L1182.4 615.4 L1185.0 614.7 L1187.5 614.7 L1190.0 615.6 L1192.5 615.2 L1195.0 612.9 L1197.4 611.3 L1199.9 611.7 L1202.4 611.4 L1204.9 611.7 L1207.4 610.5 L1209.9 611.3 L1212.4 611.0 L1214.9 609.5 L1217.4 606.5 L1220.0 604.4 L1222.5 604.2 L1225.0 605.2 L1227.5 606.1 L1230.0 606.8 L1232.7 605.2 L1235.4 605.2 L1238.1 604.9 L1240.7 607.2 L1243.4 606.4 L1246.1 604.8 L1248.8 604.7 L1251.5 605.7 L1254.1 607.2 L1256.8 607.7 L1259.4 606.8 L1262.0 605.5 L1264.7 604.9 L1267.3 606.5 L1270.0 607.1 L1272.7 608.0 L1275.4 608.8 L1278.1 609.2 L1280.9 609.2 L1283.6 608.8 L1286.3 609.8 L1289.0 609.1 L1291.6 608.5 L1294.3 609.9 L1296.9 612.1 L1299.5 613.2 L1302.2 612.0 L1304.8 612.6 L1307.5 614.1 L1310.1 615.1 L1312.7 615.1 L1315.4 616.0 L1318.0 618.4 L1320.5 618.3 L1323.0 617.1 L1325.5 616.4 L1328.0 615.5 L1330.5 614.7 L1333.0 613.7 L1335.5 615.1 L1338.0 615.6 L1340.5 616.7 L1343.0 615.9 L1345.5 616.4 L1348.0 615.3 L1350.5 614.1 L1353.0 615.2 L1355.5 615.6 L1358.0 615.6 L1360.5 614.4 L1363.0 615.3 L1365.5 615.3 L1368.0 614.9 L1370.5 613.5 L1373.0 614.3 L1375.5 612.5 L1378.0 611.4 L1380.7 612.6 L1383.4 614.8 L1386.1 615.9 L1388.9 614.6 L1391.6 612.8 L1394.3 613.4 L1397.0 612.9 L1399.5 615.4 L1402.0 616.0 L1404.5 617.6 L1407.0 618.3 L1409.6 617.2 L1412.3 615.4 L1414.9 613.6 L1417.5 613.7 L1420.2 614.2 L1422.8 614.1 L1425.5 615.5 L1428.1 618.0 L1430.7 619.4 L1433.4 620.8 L1436.0 621.2 L1438.5 620.6 L1441.0 620.1 L1443.5 619.1 L1446.0 619.7 L1448.5 621.1 L1451.0 621.2 L1453.5 622.9 L1456.0 622.4 L1458.5 624.8 L1461.0 625.5 L1463.5 625.3 L1466.0 624.3 L1468.8 622.5 L1471.6 623.6 L1474.4 624.6 L1477.2 624.3 L1480.0 621.3 L1482.6 618.4 L1485.2 617.8 L1487.8 619.2 L1490.4 620.1 L1493.0 620.5 L1495.6 617.2 L1498.3 616.7 L1501.0 616.2 L1503.7 617.7 L1506.4 618.1 L1509.2 616.1 L1511.9 614.6 L1514.6 613.8 L1517.3 616.1 L1520.0 617.4 L1522.8 616.0 L1525.5 614.9 L1528.3 614.9 L1531.0 614.2 L1533.8 613.3 L1536.5 611.8 L1539.3 611.6 L1542.0 611.9 L1544.8 611.5 L1547.3 611.3 L1549.8 609.8 L1552.4 610.6 L1554.9 609.4 L1557.4 610.4 L1560.0 608.5 L1562.5 608.0 L1565.0 608.1 L1567.7 607.4 L1570.4 609.1 L1573.1 608.1 L1575.9 609.2 L1578.6 606.2 L1581.3 604.3 L1584.0 601.3 L1586.3 602.4 L1588.6 602.4 L1590.9 602.8 L1593.1 600.4 L1595.4 598.0 L1597.7 597.4 L1600.0 596.4 L1602.6 596.8 L1605.2 594.6 L1607.8 593.5 L1610.4 591.6 L1613.0 592.8 L1615.6 593.3 L1617.8 595.3 L1620.0 597.4 L1622.2 598.3 L1624.4 600.7 L1626.6 600.5 L1629.3 600.2 L1631.9 601.1 L1634.6 601.3 L1637.3 600.7 L1640.0 599.5 L1642.7 599.1 L1645.3 600.9 L1648.0 599.5 L1650.5 601.1 L1653.1 598.6 L1655.6 600.5 L1658.1 599.4 L1660.7 599.6 L1663.2 598.3 L1665.7 597.0 L1668.3 596.9 L1670.8 595.9 L1673.4 595.8 L1676.0 597.6 L1678.7 599.5 L1681.3 600.7 L1683.9 597.9 L1686.5 595.7 L1689.1 595.3 L1691.8 594.9 L1694.4 595.8 L1697.0 593.8 L1699.7 596.1 L1702.4 593.9 L1705.1 595.1 L1707.8 593.1 L1710.5 593.2 L1713.2 590.8 L1715.9 591.9 L1718.6 592.7 L1721.3 593.0 L1724.0 591.6 L1726.5 592.7 L1729.1 592.8 L1731.6 593.2 L1734.1 591.0 L1736.6 590.9 L1739.2 591.5 L1741.7 593.0 L1744.2 593.1 L1746.8 591.2 L1749.3 589.5 L1751.8 590.6 L1754.3 591.7 L1756.9 592.3 L1759.4 591.2 L1761.9 591.0 L1764.4 591.6 L1766.9 592.8 L1769.5 592.2 L1772.0 590.3 L1774.5 587.7 L1777.0 587.6 L1779.5 587.7 L1782.1 589.0 L1784.6 586.6 L1787.2 587.2 L1789.7 585.7 L1792.3 587.3 L1794.8 587.0 L1797.7 587.5 L1800.5 585.3 L1803.4 585.5 L1806.3 585.6 L1809.1 588.0 L1812.0 586.3 L1814.6 585.7 L1817.2 585.8 L1819.8 586.2 L1822.4 586.4 L1825.0 585.3 L1827.6 586.1 L1830.2 585.8 L1832.7 586.3 L1835.3 585.8 L1837.8 587.2 L1840.3 586.1 L1842.8 586.9 L1845.4 587.7 L1847.9 589.8 L1850.4 588.7 L1853.0 588.4 L1855.5 587.1 L1858.0 588.2 L1860.5 586.5 L1863.1 587.8 L1865.6 588.4 L1868.4 589.8 L1871.1 589.1 L1873.9 588.1 L1876.7 588.5 L1879.5 587.4 L1882.2 588.8 L1885.0 588.2 L1887.7 589.0 L1890.3 586.9 L1893.0 587.2 L1895.7 589.3 L1898.3 589.4 L1901.0 589.3 L1903.7 589.0 L1906.4 589.6 L1909.1 589.5 L1911.9 589.3 L1914.6 590.5 L1917.3 591.9 L1920.0 592.3 L1922.5 591.1 L1925.0 592.1 L1927.5 592.2 L1930.0 592.1 L1932.5 590.3 L1935.0 590.3 L1937.5 591.3 L1940.0 591.7 L1942.5 591.7 L1945.0 592.0" fill="none" stroke="#0000ff" stroke-width="23.5" stroke-linejoin="round" stroke-linecap="butt"/></g>
<g clip-path="url(#ct)"><path d="M353.0 425.0 L354.5 427.2 L356.0 429.4 L357.5 431.6 L359.0 433.8 L360.5 436.0 L362.0 438.2 L363.5 440.6 L365.0 442.9 L366.5 445.3 L368.0 447.2 L369.5 449.4 L371.1 451.8 L372.6 454.0 L374.2 456.4 L375.7 458.8 L377.3 461.1 L378.8 462.8 L379.8 464.9 L380.9 467.5 L381.9 470.7 L382.9 473.5 L384.0 476.4 L385.0 478.8 L385.9 481.4 L386.8 483.3 L387.7 485.6 L388.6 488.2 L389.5 491.4 L390.4 493.8 L391.3 495.9 L392.1 498.3 L392.9 501.1 L393.6 503.9 L394.4 506.2 L395.2 508.9 L396.0 511.6 L396.8 514.0 L397.6 516.1 L398.4 518.9 L399.1 521.9 L399.9 524.9 L400.7 527.0 L401.5 529.4 L402.4 531.9 L403.3 534.6 L404.2 536.4 L405.2 538.7 L406.1 540.8 L407.0 543.8 L408.4 545.8 L409.8 548.4 L411.1 551.0 L412.5 553.6 L413.9 555.8 L415.3 557.8 L416.7 560.1 L418.0 563.0 L419.4 565.2 L420.8 567.4 L422.6 569.2 L424.4 571.0 L426.2 573.2 L428.0 575.4 L429.8 577.7 L431.6 579.4 L433.5 581.0 L435.3 583.0 L437.1 584.9 L438.9 586.6 L440.7 588.2 L442.5 590.3 L444.3 592.4 L446.1 594.3 L448.0 596.1 L449.8 597.7 L451.6 599.7 L453.4 602.0 L455.3 604.3 L457.1 606.1 L458.9 607.8 L460.7 609.3 L462.6 611.2 L464.4 612.9 L466.2 615.0 L468.2 616.9 L470.1 619.0 L472.1 620.8 L474.1 622.6 L476.0 624.4 L478.0 626.6 L479.9 628.7 L481.8 631.0 L483.7 632.5 L485.5 634.5 L487.4 636.7 L489.3 638.9 L491.2 641.0 L493.6 642.1 L495.9 643.6 L498.3 645.4 L500.6 646.6 L503.0 648.4 L505.3 648.8 L507.6 649.7 L509.9 650.9 L512.1 652.2 L514.4 653.2 L516.7 653.9 L518.9 655.2 L521.1 657.0 L523.4 658.0 L525.6 659.1 L527.8 660.6 L530.0 662.3 L532.5 663.9 L534.9 665.1 L537.4 666.5 L539.8 668.5 L542.3 670.4 L544.8 671.0 L547.4 671.2 L549.9 671.3 L552.5 671.3 L555.0 671.4 L557.6 671.9 L560.2 671.9 L562.7 672.2 L565.3 672.4 L567.9 673.0 L570.3 674.2 L572.7 676.1 L575.2 677.1 L577.6 679.4 L580.0 680.9 L582.2 682.7 L584.5 684.3 L586.8 685.7 L589.0 687.0 L591.2 688.3 L593.5 690.0 L596.0 691.4 L598.5 692.4 L601.0 693.4 L603.5 694.5 L606.0 696.1 L608.6 697.2 L611.2 698.4 L613.8 699.6 L616.4 700.9 L619.0 702.1 L621.6 702.8 L624.2 703.7 L626.8 704.4 L629.4 704.7 L632.0 704.7 L634.5 705.0 L637.0 705.3 L639.6 706.1 L642.1 706.8 L644.6 707.2 L647.1 707.9 L649.5 708.1 L652.0 709.1 L654.5 709.5 L656.9 710.4 L659.4 710.3 L662.1 710.3 L664.8 710.6 L667.5 710.8 L670.2 710.9 L673.0 711.1 L675.7 712.1 L678.5 713.3 L681.2 714.0 L684.0 714.6 L686.9 715.2 L689.9 715.6 L692.8 716.1 L695.8 716.4 L698.7 716.9 L701.1 717.6 L703.5 718.5 L705.9 719.3 L708.4 720.7 L710.8 721.7 L713.2 722.7 L715.6 722.9 L718.0 723.6 L720.5 724.4 L723.0 725.7 L725.5 726.8 L728.0 728.2 L730.5 729.4 L733.0 730.3 L735.5 730.9 L738.0 731.5 L740.7 732.6 L743.4 733.2 L746.1 733.7 L748.9 734.2 L751.6 734.7 L754.3 735.2 L757.0 736.0 L759.5 737.0 L762.1 737.8 L764.6 737.6 L767.2 738.2 L769.8 738.9 L772.3 740.0 L774.9 740.6 L777.4 741.4 L779.9 741.6 L782.3 741.5 L784.8 741.6 L787.2 742.3 L789.6 743.1 L792.1 743.6 L794.5 743.9 L797.0 744.6 L799.5 745.6 L802.0 746.4 L804.4 747.3 L806.9 748.0 L809.4 748.4 L811.8 748.6 L814.3 749.3 L816.8 750.2 L819.5 750.5 L822.3 750.0 L825.0 750.1 L827.8 750.4 L830.5 751.0 L833.3 751.4 L836.0 751.0 L838.5 751.0 L841.0 750.9 L843.5 751.1 L846.0 751.3 L848.6 751.3 L851.1 752.0 L853.6 752.0 L856.1 752.0 L858.8 751.5 L861.5 751.4 L864.2 751.8 L866.9 752.0 L869.6 752.2 L872.3 751.9 L875.0 752.4 L877.6 753.3 L880.1 753.9 L882.7 754.4 L885.2 754.0 L887.8 753.8 L890.4 754.1 L892.9 754.5 L895.5 755.3 L898.3 755.0 L901.1 754.8 L903.9 754.4 L906.6 754.2 L909.4 754.7 L912.2 754.9 L915.0 755.1 L917.8 754.7 L920.7 754.5 L923.5 754.2 L926.3 754.5 L929.1 754.6 L932.0 755.3 L934.8 754.9 L937.3 755.2 L939.9 754.8 L942.4 754.8 L944.9 755.3 L947.5 756.0 L950.0 756.5 L952.9 756.7 L955.7 756.9 L958.6 757.1 L961.4 757.1 L964.3 757.4 L966.9 757.0 L969.5 756.8 L972.1 755.7 L974.8 755.1 L977.4 754.4 L980.0 753.9 L982.8 753.2 L985.5 752.8 L988.3 752.5 L991.0 752.3 L993.8 751.2 L996.4 750.8 L998.9 750.3 L1001.5 750.1 L1004.0 750.6 L1006.6 750.4 L1009.2 750.5 L1011.7 749.7 L1014.3 749.7 L1016.8 749.4 L1019.4 749.5 L1022.0 749.1 L1024.5 748.8 L1027.1 749.2 L1029.7 749.4 L1032.3 749.5 L1034.8 749.0 L1037.4 748.9 L1040.0 748.9 L1042.7 748.7 L1045.4 749.0 L1048.1 749.0 L1050.9 749.1 L1053.6 749.1 L1056.3 748.9 L1059.0 749.0 L1061.6 748.9 L1064.3 748.8 L1066.9 748.9 L1069.5 748.8 L1072.2 749.2 L1074.8 748.8 L1077.5 748.3 L1080.1 748.1 L1082.7 748.2 L1085.4 748.6 L1088.0 748.0 L1090.5 748.3 L1093.0 747.8 L1095.5 747.6 L1098.0 747.1 L1100.5 746.6 L1103.0 746.8 L1105.5 746.5 L1108.0 747.0 L1110.5 746.7 L1113.0 746.6 L1115.5 745.9 L1118.0 745.8 L1120.5 745.5 L1123.0 745.8 L1125.5 745.3 L1128.0 745.3 L1130.5 744.9 L1133.0 744.9 L1135.5 744.9 L1138.0 744.6 L1140.5 744.8 L1143.0 744.4 L1145.5 744.2 L1148.0 743.8 L1150.6 743.2 L1153.3 743.0 L1155.9 743.1 L1158.5 743.2 L1161.2 743.4 L1163.8 742.6 L1166.5 742.6 L1169.1 742.2 L1171.7 742.3 L1174.4 741.9 L1177.0 741.5 L1179.6 741.3 L1182.3 741.2 L1184.9 741.2 L1187.5 741.5 L1190.2 741.5 L1192.8 741.6 L1195.5 741.8 L1198.1 742.1 L1200.7 742.4 L1203.4 742.4 L1206.0 741.8 L1208.5 741.3 L1211.0 740.6 L1213.5 741.0 L1216.0 741.2 L1218.5 741.4 L1221.0 741.2 L1223.5 741.1 L1226.0 741.4 L1228.5 741.2 L1231.0 741.3 L1233.5 741.0 L1236.0 741.3 L1238.6 740.5 L1241.3 740.0 L1243.9 739.9 L1246.5 740.1 L1249.2 740.3 L1251.8 739.4 L1254.5 738.5 L1257.1 737.8 L1259.7 737.7 L1262.4 737.6 L1265.0 737.5 L1267.5 737.1 L1270.0 736.8 L1272.5 736.7 L1275.0 736.5 L1277.5 736.7 L1280.0 736.3 L1282.5 736.5 L1285.0 735.7 L1287.5 735.3 L1290.0 735.0 L1292.5 734.8 L1295.0 734.1 L1297.5 734.0 L1300.0 734.1 L1302.5 734.1 L1305.0 733.2 L1307.5 733.0 L1310.0 733.0 L1312.5 732.8 L1315.0 732.0 L1317.5 731.4 L1320.0 731.7 L1322.5 731.4 L1325.0 731.8 L1327.6 731.5 L1330.3 731.2 L1332.9 730.7 L1335.5 730.2 L1338.2 730.5 L1340.8 730.3 L1343.5 729.9 L1346.1 729.2 L1348.7 729.0 L1351.4 728.8 L1354.0 729.2 L1356.6 729.0 L1359.2 729.2 L1361.8 729.1 L1364.4 729.0 L1367.0 728.7 L1369.6 728.1 L1372.2 728.1 L1374.8 728.0 L1377.4 728.4 L1380.0 728.5 L1382.5 727.9 L1385.0 727.8 L1387.5 726.7 L1390.0 726.8 L1392.5 726.5 L1395.0 726.3 L1397.5 725.8 L1400.0 725.6 L1402.5 725.6 L1405.0 725.2 L1407.5 724.3 L1410.0 723.5 L1412.6 723.0 L1415.3 722.8 L1417.9 722.6 L1420.5 722.2 L1423.2 721.6 L1425.8 721.7 L1428.5 721.7 L1431.1 721.4 L1433.7 720.7 L1436.4 720.2 L1439.0 720.1 L1441.6 720.4 L1444.3 720.1 L1446.9 719.7 L1449.5 719.5 L1452.2 719.1 L1454.8 719.1 L1457.5 718.5 L1460.1 718.8 L1462.7 718.6 L1465.4 718.7 L1468.0 718.0 L1470.5 717.9 L1473.0 717.6 L1475.5 717.6 L1478.0 717.5 L1480.5 717.5 L1483.0 717.1 L1485.5 716.5 L1488.0 715.9 L1490.5 715.8 L1493.0 715.5 L1495.5 715.2 L1498.0 715.0 L1500.5 714.8 L1503.0 714.2 L1505.5 713.4 L1508.0 712.4 L1510.5 711.7 L1513.0 711.2 L1515.5 710.3 L1518.0 709.3 L1520.4 708.3 L1522.8 708.3 L1525.3 708.2 L1527.7 707.6 L1530.1 706.7 L1532.6 706.2 L1535.0 705.9 L1537.4 704.7 L1539.9 703.9 L1542.3 703.3 L1544.8 702.9 L1547.3 702.5 L1549.7 701.7 L1552.2 701.8 L1554.7 701.4 L1557.1 701.4 L1559.6 701.0 L1562.1 700.5 L1564.5 699.7 L1567.0 698.7 L1569.7 697.8 L1572.3 697.2 L1575.0 697.1 L1577.7 697.2 L1580.4 697.0 L1583.0 696.0 L1585.7 695.4 L1588.4 695.4 L1591.1 695.5 L1593.7 694.6 L1596.4 694.1 L1599.1 693.7 L1601.8 693.8 L1604.5 693.1 L1607.2 692.2 L1609.9 691.9 L1612.5 691.6 L1615.2 691.4 L1617.9 690.8 L1620.6 690.5 L1623.3 690.5 L1626.0 690.0 L1628.7 689.3 L1631.4 688.7 L1634.0 688.7 L1636.7 688.9 L1639.4 688.7 L1642.1 688.5 L1644.8 688.2 L1647.5 687.7 L1650.1 687.0 L1652.8 686.0 L1655.5 685.5 L1658.2 685.2 L1660.9 684.8 L1663.5 684.7 L1666.2 684.0 L1668.9 684.0 L1671.6 683.8 L1674.3 683.4 L1677.0 682.7 L1679.6 682.0 L1682.3 681.7 L1685.0 681.9 L1687.7 681.2 L1690.4 681.4 L1693.0 681.2 L1695.7 681.5 L1698.4 680.8 L1701.1 680.0 L1703.8 679.6 L1706.5 679.3 L1709.1 679.1 L1711.8 678.5 L1714.5 678.2 L1717.0 678.2 L1719.6 678.4 L1722.1 678.6 L1724.7 678.1 L1727.2 677.5 L1729.8 677.0 L1732.3 677.1 L1734.8 677.0 L1737.4 676.7 L1739.9 676.1 L1742.5 675.9 L1745.0 676.0 L1747.7 676.6 L1750.3 676.9 L1753.0 677.1 L1755.7 677.0 L1758.3 676.9 L1761.0 676.6 L1763.7 676.3 L1766.3 675.5 L1769.0 675.4 L1771.7 675.1 L1774.3 675.2 L1777.0 675.0 L1779.6 674.7 L1782.1 674.3 L1784.7 673.7 L1787.3 672.7 L1789.9 672.0 L1792.4 671.6 L1795.0 670.8 L1797.5 670.2 L1800.0 669.6 L1802.5 669.5 L1805.0 669.0 L1807.5 668.5 L1810.0 668.0 L1812.5 668.0 L1815.0 667.7 L1817.5 667.8 L1820.0 667.7 L1822.5 667.6 L1825.0 667.2 L1827.5 666.8 L1830.0 667.1 L1832.5 667.3 L1835.0 667.2 L1837.5 667.1 L1840.0 666.8 L1842.6 666.7 L1845.1 666.3 L1847.7 666.2 L1850.2 666.5 L1852.8 666.4 L1855.4 666.3 L1857.9 666.3 L1860.5 665.8 L1863.0 665.9 L1865.6 665.9 L1868.2 665.6 L1870.8 665.2 L1873.4 664.6 L1876.1 664.6 L1878.7 664.7 L1881.3 664.8 L1883.9 664.8 L1886.5 664.5 L1889.2 663.8 L1891.8 663.8 L1894.4 663.5 L1897.0 663.3 L1899.5 662.9 L1902.1 662.4 L1904.7 662.2 L1907.2 662.0 L1909.8 661.9 L1912.3 662.1 L1914.8 661.2 L1917.4 661.2 L1919.9 660.3 L1922.5 660.2 L1925.0 659.6 L1927.6 659.3 L1930.1 659.3 L1932.6 658.8 L1935.1 658.7 L1937.6 658.5 L1940.0 658.3 L1942.5 658.2 L1945.0 657.8 L1947.5 657.5 L1950.0 657.0" fill="none" stroke="#008080" stroke-width="22" stroke-linejoin="round" stroke-linecap="butt"/></g>
<rect x="294.5" y="45.2" width="1699.0" height="1254.5" fill="none" stroke="#000" stroke-width="5"/>
<line x1="280.0" y1="45.6" x2="294.5" y2="45.6" stroke="#000" stroke-width="5"/>
<line x1="268.0" y1="202.5" x2="294.5" y2="202.5" stroke="#000" stroke-width="5"/>
<line x1="280.0" y1="359.3" x2="294.5" y2="359.3" stroke="#000" stroke-width="5"/>
<line x1="268.0" y1="516.2" x2="294.5" y2="516.2" stroke="#000" stroke-width="5"/>
<line x1="280.0" y1="673.0" x2="294.5" y2="673.0" stroke="#000" stroke-width="5"/>
<line x1="268.0" y1="829.9" x2="294.5" y2="829.9" stroke="#000" stroke-width="5"/>
<line x1="280.0" y1="986.8" x2="294.5" y2="986.8" stroke="#000" stroke-width="5"/>
<line x1="268.0" y1="1143.6" x2="294.5" y2="1143.6" stroke="#000" stroke-width="5"/>
<line x1="280.0" y1="1300.4" x2="294.5" y2="1300.4" stroke="#000" stroke-width="5"/>
<line x1="360.6" y1="1299.7" x2="360.6" y2="1326.5" stroke="#000" stroke-width="5"/>
<line x1="491.1" y1="1299.7" x2="491.1" y2="1314.5" stroke="#000" stroke-width="5"/>
<line x1="621.5" y1="1299.7" x2="621.5" y2="1326.5" stroke="#000" stroke-width="5"/>
<line x1="752.0" y1="1299.7" x2="752.0" y2="1314.5" stroke="#000" stroke-width="5"/>
<line x1="882.5" y1="1299.7" x2="882.5" y2="1326.5" stroke="#000" stroke-width="5"/>
<line x1="1013.0" y1="1299.7" x2="1013.0" y2="1314.5" stroke="#000" stroke-width="5"/>
<line x1="1143.4" y1="1299.7" x2="1143.4" y2="1326.5" stroke="#000" stroke-width="5"/>
<line x1="1273.9" y1="1299.7" x2="1273.9" y2="1314.5" stroke="#000" stroke-width="5"/>
<line x1="1404.4" y1="1299.7" x2="1404.4" y2="1326.5" stroke="#000" stroke-width="5"/>
<line x1="1534.8" y1="1299.7" x2="1534.8" y2="1314.5" stroke="#000" stroke-width="5"/>
<line x1="1665.3" y1="1299.7" x2="1665.3" y2="1326.5" stroke="#000" stroke-width="5"/>
<line x1="1795.8" y1="1299.7" x2="1795.8" y2="1314.5" stroke="#000" stroke-width="5"/>
<line x1="1926.2" y1="1299.7" x2="1926.2" y2="1326.5" stroke="#000" stroke-width="5"/>
<text transform="translate(248.5,215.0) scale(0.93,1)" text-anchor="end" stroke="#fff" stroke-width="0.5" style="font-family:'Liberation Sans',Arial,sans-serif;font-weight:bold;font-size:51.5px">-1.60</text>
<text transform="translate(248.5,528.7) scale(0.93,1)" text-anchor="end" stroke="#fff" stroke-width="0.5" style="font-family:'Liberation Sans',Arial,sans-serif;font-weight:bold;font-size:51.5px">-1.65</text>
<text transform="translate(248.5,842.4) scale(0.93,1)" text-anchor="end" stroke="#fff" stroke-width="0.5" style="font-family:'Liberation Sans',Arial,sans-serif;font-weight:bold;font-size:51.5px">-1.70</text>
<text transform="translate(248.5,1156.1) scale(0.93,1)" text-anchor="end" stroke="#fff" stroke-width="0.5" style="font-family:'Liberation Sans',Arial,sans-serif;font-weight:bold;font-size:51.5px">-1.75</text>
<text transform="translate(359.6,1381) scale(0.94,1)" text-anchor="middle" stroke="#fff" stroke-width="0.5" style="font-family:'Liberation Sans',Arial,sans-serif;font-weight:bold;font-size:51.5px">0</text>
<text transform="translate(620.5,1381) scale(0.94,1)" text-anchor="middle" stroke="#fff" stroke-width="0.5" style="font-family:'Liberation Sans',Arial,sans-serif;font-weight:bold;font-size:51.5px">200</text>
<text transform="translate(881.5,1381) scale(0.94,1)" text-anchor="middle" stroke="#fff" stroke-width="0.5" style="font-family:'Liberation Sans',Arial,sans-serif;font-weight:bold;font-size:51.5px">400</text>
<text transform="translate(1142.4,1381) scale(0.94,1)" text-anchor="middle" stroke="#fff" stroke-width="0.5" style="font-family:'Liberation Sans',Arial,sans-serif;font-weight:bold;font-size:51.5px">600</text>
<text transform="translate(1403.4,1381) scale(0.94,1)" text-anchor="middle" stroke="#fff" stroke-width="0.5" style="font-family:'Liberation Sans',Arial,sans-serif;font-weight:bold;font-size:51.5px">800</text>
<text transform="translate(1664.3,1381) scale(0.94,1)" text-anchor="middle" stroke="#fff" stroke-width="0.5" style="font-family:'Liberation Sans',Arial,sans-serif;font-weight:bold;font-size:51.5px">1000</text>
<text transform="translate(1925.2,1381) scale(0.94,1)" text-anchor="middle" stroke="#fff" stroke-width="0.5" style="font-family:'Liberation Sans',Arial,sans-serif;font-weight:bold;font-size:51.5px">1200</text>
<text transform="translate(333.5,186.0) scale(0.953,1)" style="font-family:'Liberation Sans',Arial,sans-serif;font-weight:bold;font-size:64px">(a) MgZn-0.1F</text>
<text transform="translate(334.5,363.0) scale(0.953,1)" style="font-family:'Liberation Sans',Arial,sans-serif;font-weight:bold;font-size:64px">(b) MgZn-0.2F</text>
<text transform="translate(344.0,793.0) scale(0.953,1)" style="font-family:'Liberation Sans',Arial,sans-serif;font-weight:bold;font-size:64px">(c) MgZn-0.3F</text>
<text transform="translate(345.0,1058.0) scale(0.953,1)" style="font-family:'Liberation Sans',Arial,sans-serif;font-weight:bold;font-size:64px">(d) Bare MgZn</text>
<text transform="translate(96,787) rotate(-90) scale(0.975,1)" style="font-family:'Liberation Serif','Times New Roman',serif;font-weight:bold;font-size:81px">E (V)</text>
<text x="1079.5" y="1476" style="font-family:'Liberation Serif','Times New Roman',serif;font-weight:bold;font-size:77px">t (s)</text></svg></body></html>
